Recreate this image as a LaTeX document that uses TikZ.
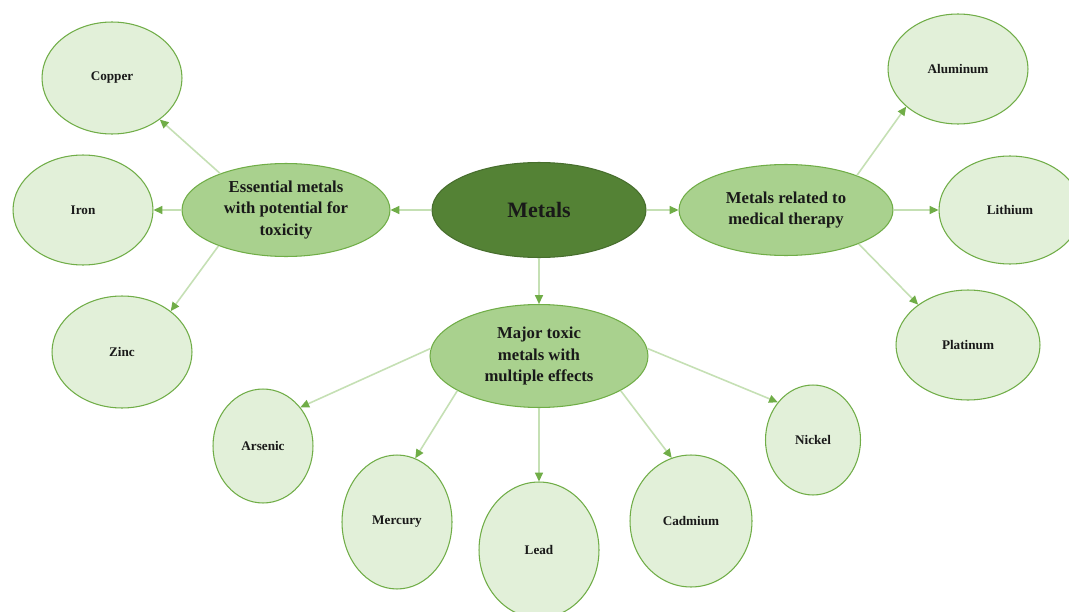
\documentclass[tikz,border=0pt]{standalone}
\usepackage{fontspec}
\setmainfont{Liberation Serif}
\usetikzlibrary{arrows.meta,shapes.geometric}
\definecolor{rootgreen}{HTML}{548235}
\definecolor{groupgreen}{HTML}{A9D18E}
\definecolor{leafgreen}{HTML}{E2F0D9}
\definecolor{rimgreen}{HTML}{70AD47}
\definecolor{linkgreen}{HTML}{C5E0B4}

\tikzset{
    root/.style={ellipse, draw=rootgreen!85!black, fill=rootgreen, line width=0.6pt, inner sep=0pt,
        text=black!90, font=\bfseries\fontsize{12.5}{15}\selectfont},
    group/.style={ellipse, draw=rimgreen, fill=groupgreen, line width=0.6pt, inner sep=0pt,
        align=center, text=black!90, font=\bfseries\fontsize{9.5}{12.5}\selectfont},
    leaf/.style={ellipse, draw=rimgreen, fill=leafgreen, line width=0.6pt, inner sep=0pt,
        text=black!90, font=\bfseries\fontsize{7.5}{9}\selectfont},
    link/.style={draw=linkgreen, line width=0.9pt, -{Triangle[length=5pt,width=4.5pt,color=rimgreen]}}
}

\begin{document}
\begin{tikzpicture}[x=0.02cm, y=-0.02cm]
    \clip (0,0) rectangle (1069,612);
    \fill[white] (0,0) rectangle (1069,612);

    \node[root] (metals) at (539,210) [minimum width=4.28cm, minimum height=1.90cm] {Metals};

    \node[group] (essential) at (286,210) [minimum width=4.16cm, minimum height=1.86cm] {Essential metals\\with potential for\\toxicity};
    \node[group] (medical) at (786,210) [minimum width=4.28cm, minimum height=1.82cm] {Metals related to\\medical therapy};
    \node[group] (major) at (539,356) [minimum width=4.36cm, minimum height=2.06cm] {Major toxic\\metals with\\multiple effects};

    \node[leaf] (copper) at (112,78) [minimum width=2.80cm, minimum height=2.24cm] {Copper};
    \node[leaf] (iron) at (83,210) [minimum width=2.80cm, minimum height=2.20cm] {Iron};
    \node[leaf] (zinc) at (122,352) [minimum width=2.80cm, minimum height=2.24cm] {Zinc};

    \node[leaf] (aluminum) at (958,69) [minimum width=2.80cm, minimum height=2.20cm] {Aluminum};
    \node[leaf] (lithium) at (1010,210) [minimum width=2.84cm, minimum height=2.16cm] {Lithium};
    \node[leaf] (platinum) at (968,345) [minimum width=2.88cm, minimum height=2.20cm] {Platinum};

    \node[leaf] (arsenic) at (263,446) [minimum width=2.00cm, minimum height=2.28cm] {Arsenic};
    \node[leaf] (mercury) at (397,522) [minimum width=2.20cm, minimum height=2.68cm] {Mercury};
    \node[leaf] (lead) at (539,550) [minimum width=2.40cm, minimum height=2.72cm] {Lead};
    \node[leaf] (cadmium) at (691,521) [minimum width=2.44cm, minimum height=2.64cm] {Cadmium};
    \node[leaf] (nickel) at (813,440) [minimum width=1.90cm, minimum height=2.20cm] {Nickel};

    \path[every edge/.style=link]
    (metals.west) edge (essential.east)
    (metals.east) edge (medical.west)
    (metals.south) edge (major.north)
    (essential.151) edge (copper.-41)
    (essential.west) edge (iron.east)
    (essential.208) edge (zinc.40)
    (medical.26) edge (aluminum.216)
    (medical.east) edge (lithium.west)
    (medical.-25) edge (platinum.141)
    (major.176) edge (arsenic.46)
    (major.203) edge (mercury.74)
    (major.south) edge (lead.north)
    (major.-23) edge (cadmium.107)
    (major.4) edge (nickel.133);
\end{tikzpicture}
\end{document}
